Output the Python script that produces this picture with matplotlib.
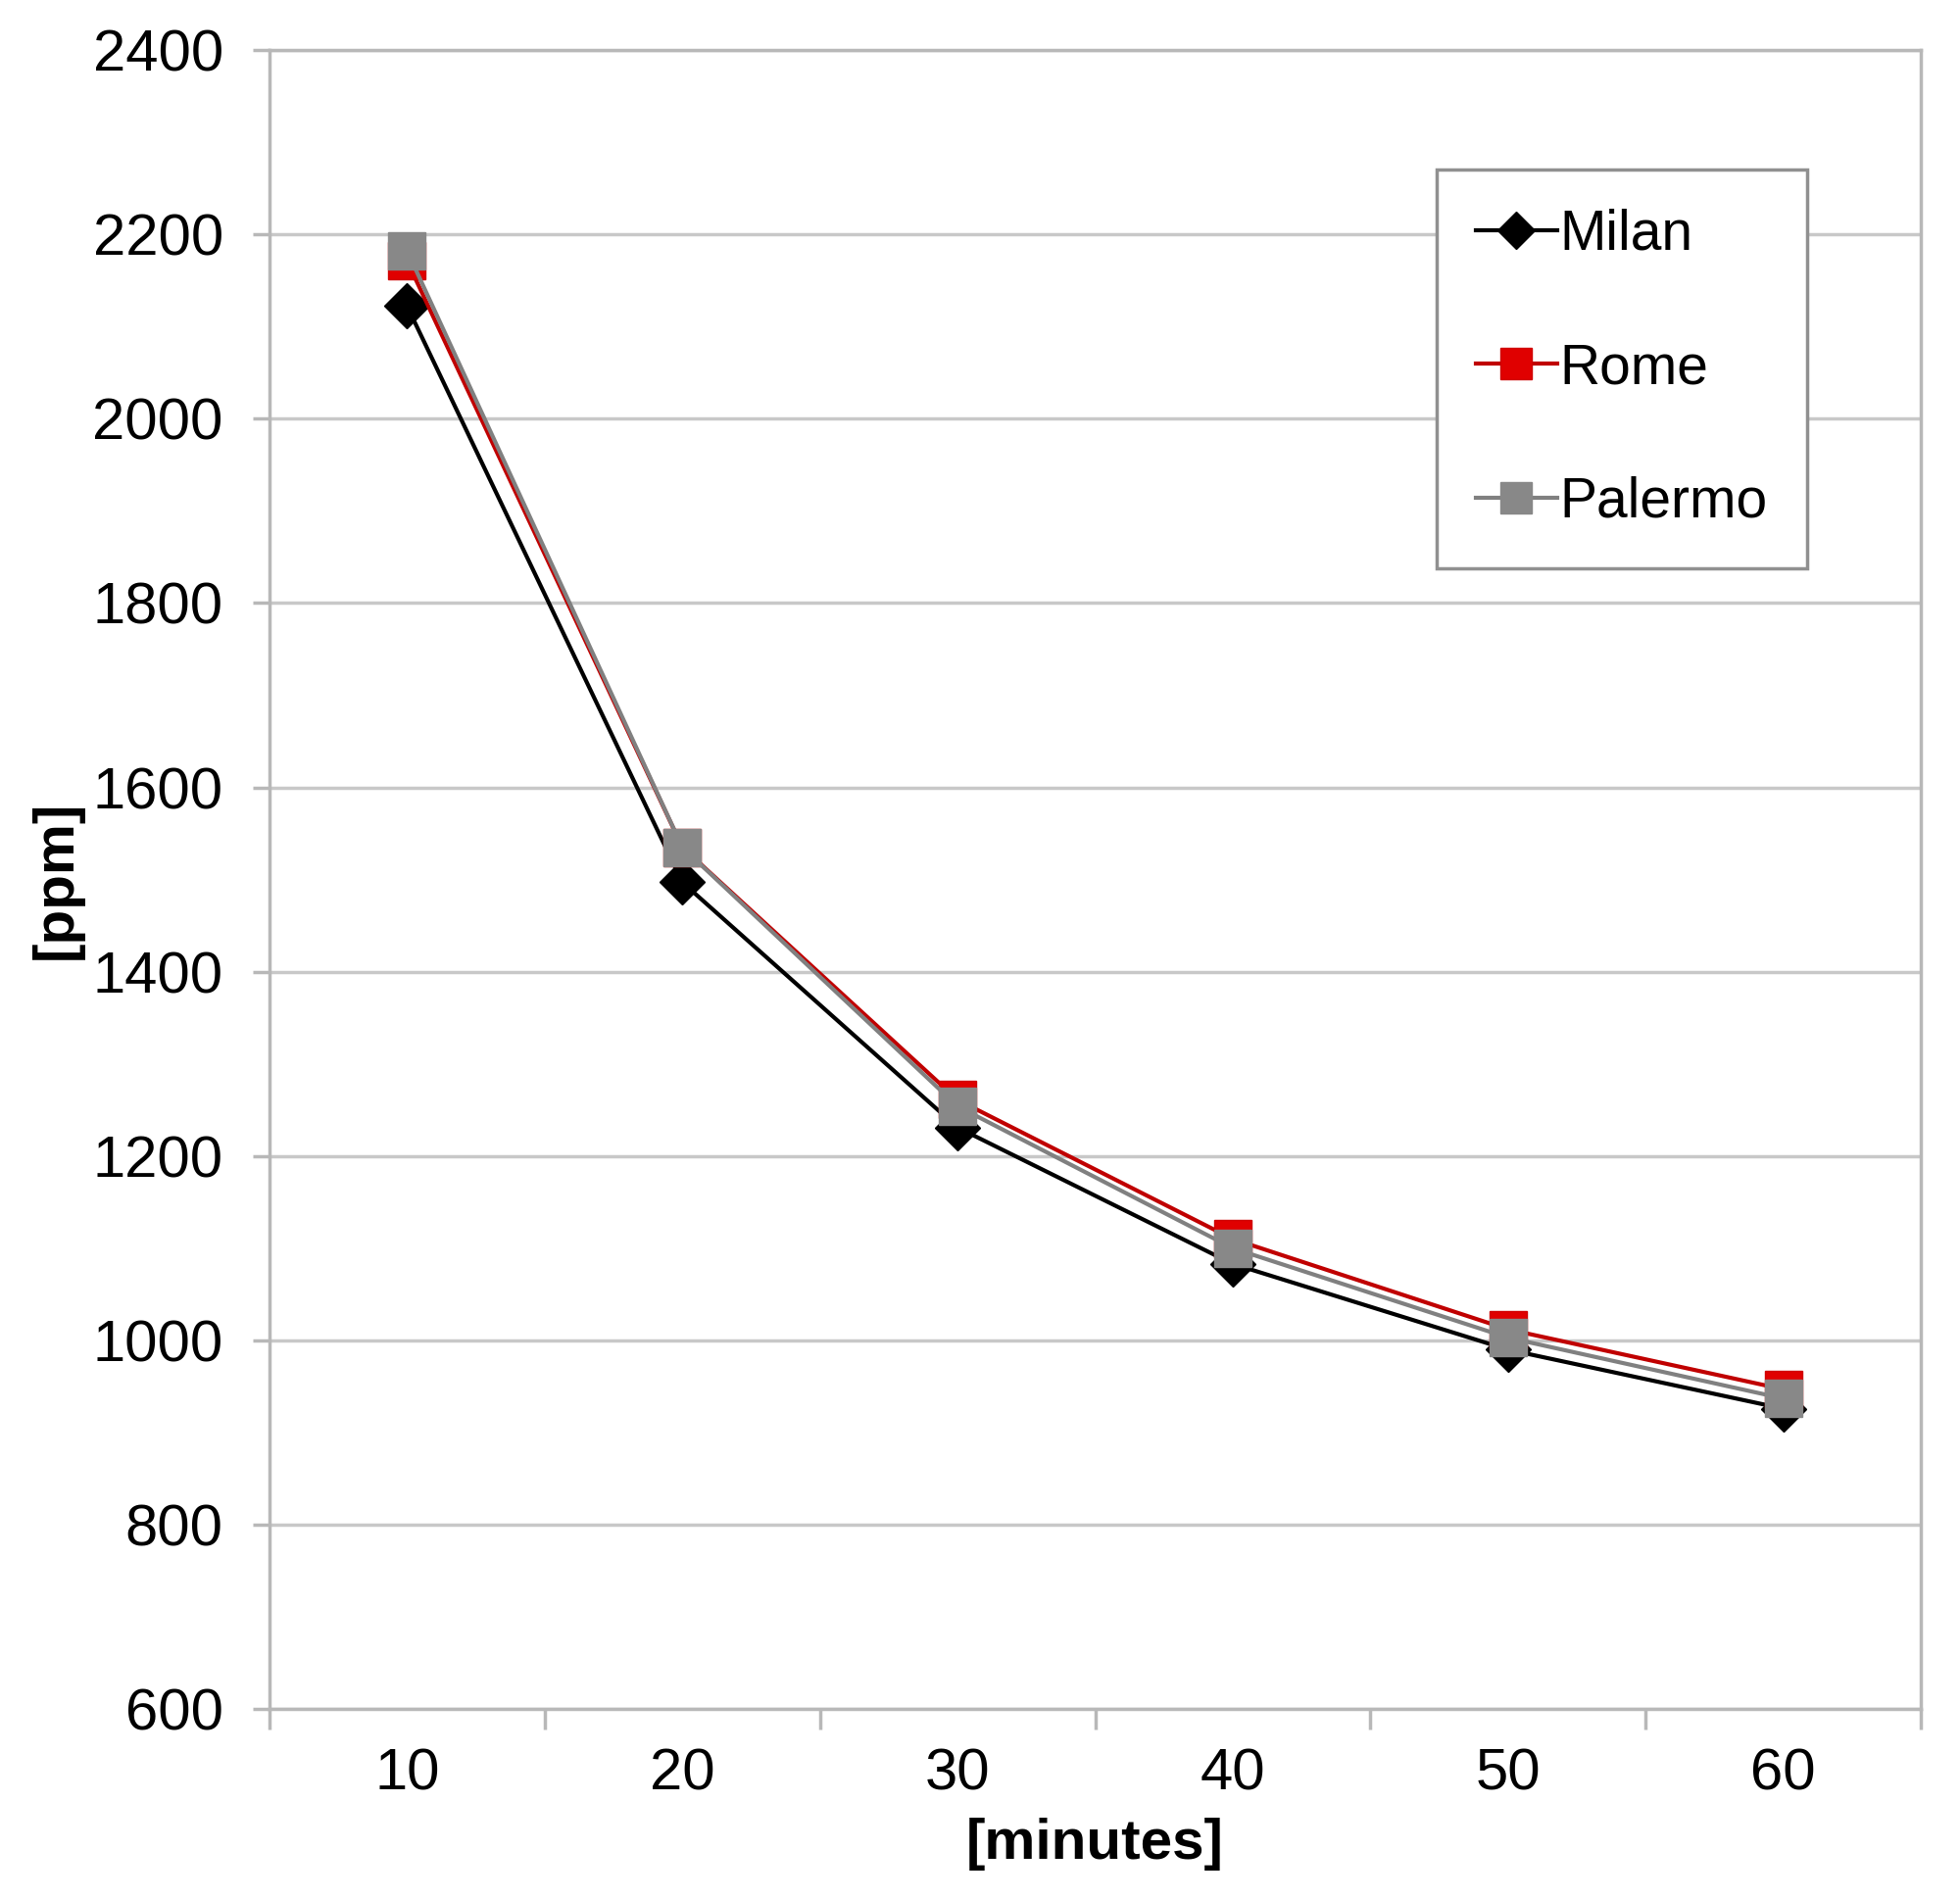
import matplotlib
matplotlib.use("Agg")
import matplotlib.pyplot as plt
import numpy as np

minutes = [10, 20, 30, 40, 50, 60]
milan = [2122, 1497, 1231, 1083, 990, 926]
rome = [2171, 1535, 1261, 1110, 1012, 947]
palermo = [2182, 1535, 1254, 1100, 1003, 937]

plt.rcParams['font.family'] = ['Liberation Sans', 'DejaVu Sans']

fig = plt.figure(figsize=(20, 19.38), dpi=100)
ax = fig.add_axes([0.1375, 0.1, 0.8425, 0.8737])

x = np.arange(len(minutes))
ax.plot(x, milan, color='black', lw=3, marker='D', ms=23, label='Milan', zorder=3)
ax.plot(x, rome, color='#c00000', lw=3, marker='s', ms=27, mfc='#e00000', mec='#d00000',
        label='Rome', zorder=4)
ax.plot(x, palermo, color='#808080', lw=3, marker='s', ms=27, mfc='#888888', mec='#888888',
        label='Palermo', zorder=5)

ax.set_xlim(-0.5, len(minutes) - 0.5)
ax.set_ylim(600, 2400)
ax.set_yticks(np.arange(600, 2401, 200))
ax.set_xticks(x)
ax.set_xticklabels([str(m) for m in minutes])
ax.set_xticks(np.arange(-0.5, len(minutes), 1), minor=True)

ax.grid(axis='y', color='#c8c8c8', lw=2.5)
ax.set_axisbelow(True)
for s in ax.spines.values():
    s.set_color('#b8b8b8')
    s.set_linewidth(2.5)

ax.tick_params(axis='x', which='major', length=0, pad=28, labelsize=43)
ax.tick_params(axis='x', which='minor', length=15, width=2.5, color='#b8b8b8')
ax.tick_params(axis='y', length=12, width=2.5, color='#b8b8b8', pad=22, labelsize=43)

ax.set_xlabel('[minutes]', fontsize=42, fontweight='bold', labelpad=12)
ax.set_ylabel('[ppm]', fontsize=42, fontweight='bold')
ax.yaxis.set_label_coords(-0.113, 0.5)

leg = ax.legend(loc='upper left', bbox_to_anchor=(0.707, 0.928), borderaxespad=0,
                fontsize=41, fancybox=False, framealpha=1, edgecolor='#909090',
                labelspacing=1.45, handlelength=1.45, handletextpad=0.05,
                borderpad=0.7, markerscale=0.85)
leg.get_frame().set_linewidth(2.5)

fig.savefig('out.png', dpi=100)
